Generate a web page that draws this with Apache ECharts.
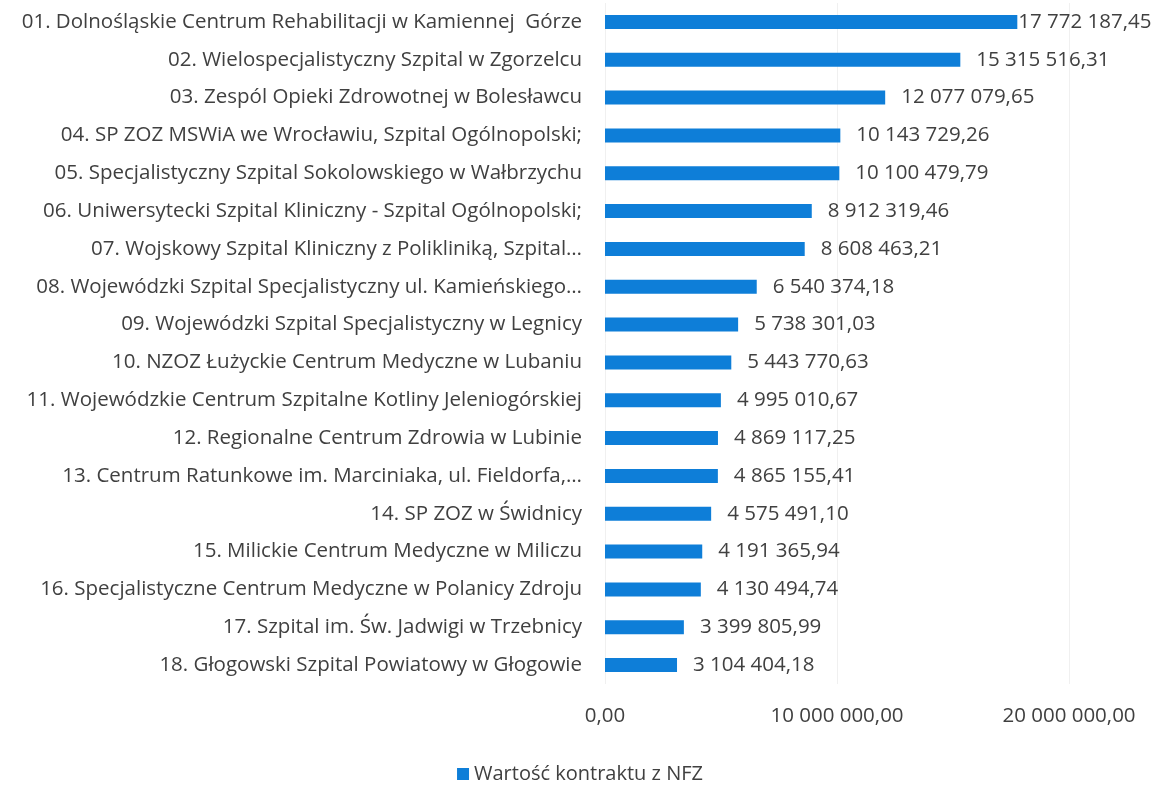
<!DOCTYPE html>
<html><head><meta charset="utf-8">
<script src="https://cdn.jsdelivr.net/npm/echarts@6/dist/echarts.min.js"></script>
<style>html,body{margin:0;padding:0;background:#fff}#c{width:1160px;height:792px}</style>
</head><body><div id="c"></div>
<script>
const categories = [
  "01. Dolnośląskie Centrum Rehabilitacji w Kamiennej  Górze",
  "02. Wielospecjalistyczny Szpital w Zgorzelcu",
  "03. Zespól Opieki Zdrowotnej w Bolesławcu",
  "04. SP ZOZ MSWiA we Wrocławiu, Szpital Ogólnopolski;",
  "05. Specjalistyczny Szpital Sokolowskiego w Wałbrzychu",
  "06. Uniwersytecki Szpital Kliniczny - Szpital Ogólnopolski;",
  "07. Wojskowy Szpital Kliniczny z Polikliniką, Szpital…",
  "08. Wojewódzki Szpital Specjalistyczny ul. Kamieńskiego…",
  "09. Wojewódzki Szpital Specjalistyczny w Legnicy",
  "10. NZOZ Łużyckie Centrum Medyczne w Lubaniu",
  "11. Wojewódzkie Centrum Szpitalne Kotliny Jeleniogórskiej",
  "12. Regionalne Centrum Zdrowia w Lubinie",
  "13. Centrum Ratunkowe im. Marciniaka, ul. Fieldorfa,…",
  "14. SP ZOZ w Świdnicy",
  "15. Milickie Centrum Medyczne w Miliczu",
  "16. Specjalistyczne Centrum Medyczne w Polanicy Zdroju",
  "17. Szpital im. Św. Jadwigi w Trzebnicy",
  "18. Głogowski Szpital Powiatowy w Głogowie"
];
const values = [17772187.45, 15315516.31, 12077079.65, 10143729.26, 10100479.79, 8912319.46, 8608463.21, 6540374.18, 5738301.03, 5443770.63, 4995010.67, 4869117.25, 4865155.41, 4575491.10, 4191365.94, 4130494.74, 3399805.99, 3104404.18];
const seriesName = "Wartość kontraktu z NFZ";

function fmt(v){
  const s = v.toFixed(2).split('.');
  return s[0].replace(/\B(?=(\d{3})+(?!\d))/g, ' ') + ',' + s[1];
}
const FONT = 'Open Sans';
const FS = 20.5;
const COLOR = '#404040';
const barData = values.map((v, i) => i === 0 ? {value: v, label: {distance: 1}} : v);
const chart = echarts.init(document.getElementById('c'));
chart.setOption({
  animation: false,
  textStyle: {fontFamily: FONT},
  grid: {left: 605, right: 91, top: 3, bottom: 108, containLabel: false},
  legend: {
    bottom: 3, left: 'center',
    data: [seriesName],
    icon: 'rect', itemWidth: 12, itemHeight: 12, itemGap: 7,
    textStyle: {fontFamily: FONT, fontSize: 20, color: COLOR}
  },
  xAxis: {
    type: 'value', min: 0, max: 20000000, interval: 10000000,
    axisLine: {show: false}, axisTick: {show: false},
    splitLine: {lineStyle: {color: '#f0f0f0'}},
    axisLabel: {formatter: fmt, fontFamily: FONT, fontSize: FS, color: COLOR, margin: 22}
  },
  yAxis: {
    type: 'category', inverse: true, data: categories,
    axisLine: {show: false}, axisTick: {show: false},
    axisLabel: {fontFamily: FONT, fontSize: FS, color: COLOR, margin: 23}
  },
  series: [{
    name: seriesName, type: 'bar', data: barData, barWidth: 14,
    itemStyle: {color: '#0e7ed8'},
    label: {show: true, position: 'right', distance: 16, formatter: p => fmt(p.value),
      fontFamily: FONT, fontSize: FS, color: COLOR}
  }]
});
</script></body></html>
